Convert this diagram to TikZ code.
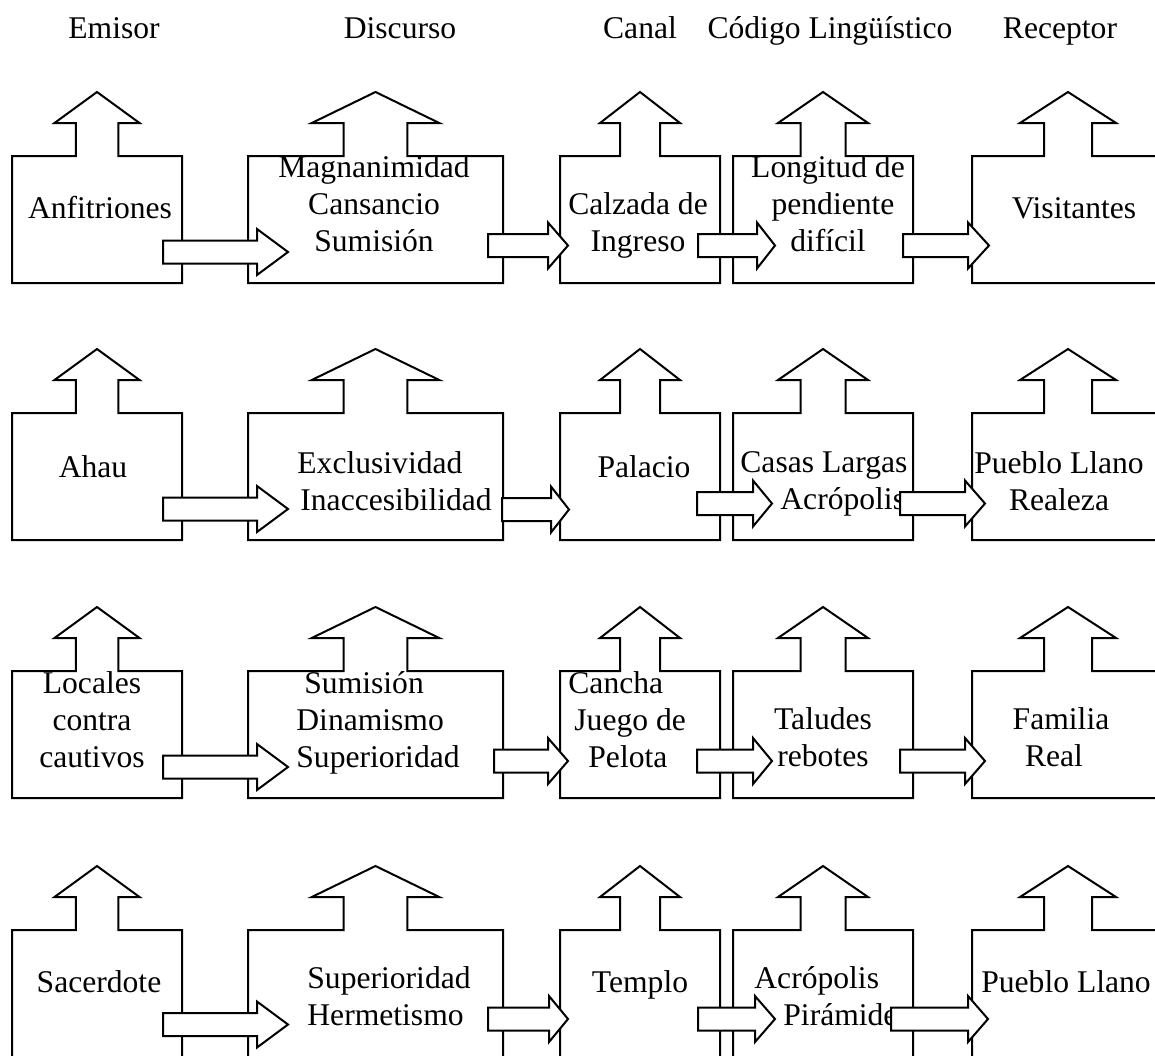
\documentclass[tikz,border=0pt]{standalone}
\usepackage{fontspec}
\setmainfont{Liberation Serif}
\newcommand{\letra}{\fontsize{15.8}{18.5}\selectfont}

\tikzset{
  casa/.style={draw=black, line width=1pt, fill=white},
  flecha/.style={draw=black, line width=1pt, fill=white},
  rotulo/.style={font=\letra, inner sep=0pt, anchor=north, align=center,
    execute at begin node=\strut},
  titulo/.style={font=\letra, inner sep=0pt, anchor=base}
}

\begin{document}
\begin{tikzpicture}[x=0.5pt, y=-0.5pt]
  \useasboundingbox (0,0) rectangle (1155,1055);
  \clip (0,0) rectangle (1155,1055);

  % заголовки столбцов
  \node[titulo] (h1) at (114,38) {Emisor};
  \node[titulo] (h2) at (400,38) {Discurso};
  \node[titulo] (h3) at (640,38) {Canal};
  \node[titulo] (h4) at (830,38) {Código Lingüístico};
  \node[titulo] (h5) at (1060,38) {Receptor};

  % блоки со стрелкой вверх
  \foreach \yt [count=\fila] in {156,413,671,930}{
    \foreach \xl/\xr [count=\col] in {12/182,248/503,560/720,733/913,972/1164}{
      \pgfmathsetmacro\xm{(\xl+\xr)/2}
      \pgfmathsetmacro\ca{(\xr-\xl)/4}
      \pgfmathsetmacro\cb{(\xr-\xl)/8}
      \draw[casa] (\xl,\yt+127) -- (\xl,\yt) -- (\xm-\cb,\yt) -- (\xm-\cb,\yt-33)
        -- (\xm-\ca,\yt-33) -- (\xm,\yt-64) -- (\xm+\ca,\yt-33) -- (\xm+\cb,\yt-33)
        -- (\xm+\cb,\yt) -- (\xr,\yt) -- (\xr,\yt+127) -- cycle;
      \coordinate (b\fila\col) at (\xm,\yt);
    }
  }

  % первая строка
  \node[rotulo] (t11) at (100,192) {Anfitriones};
  \node[rotulo] (t12) at (374,155) {Magnanimidad\\Cansancio\\Sumisión};
  \node[rotulo] (t13) at (638,192) {Calzada de\\Ingreso};
  \node[rotulo] (t14) at (828,155) {Longitud de\\\hspace*{5pt}pendiente\\difícil};
  \node[rotulo] (t15) at (1074,192) {Visitantes};

  % вторая строка
  \node[rotulo] (t21) at (93,451) {Ahau};
  \node[rotulo, anchor=north west, align=left] (t22) at (297,451)
    {Exclusividad\\\hspace*{1.5pt}Inaccesibilidad};
  \node[rotulo] (t23) at (644,451) {Palacio};
  \node[rotulo, anchor=north west, align=left] (t24) at (740,451)
    {Casas Largas\\\hspace*{20pt}Acrópolis};
  \node[rotulo] (t25) at (1059,451) {Pueblo Llano\\Realeza};

  % третья строка
  \node[rotulo] (t31) at (92,671) {Locales\\contra\hspace*{5pt}\\cautivos};
  \node[rotulo, anchor=north west, align=left] (t32) at (296,671)
    {\hspace*{4pt}Sumisión\\Dinamismo\\Superioridad};
  \node[rotulo, anchor=north west, align=left] (t33) at (568,671)
    {Cancha\\\hspace*{3pt}Juego de\\\hspace*{10pt}Pelota};
  \node[rotulo] (t34) at (823,707) {Taludes\\rebotes};
  \node[rotulo] (t35) at (1061,707) {Familia\\Real\hspace*{7pt}};

  % четвёртая строка
  \node[rotulo] (t41) at (99,966) {Sacerdote};
  \node[rotulo, anchor=north west, align=left] (t42) at (307,966)
    {Superioridad\\Hermetismo};
  \node[rotulo] (t43) at (640,966) {Templo};
  \node[rotulo, anchor=north west, align=left] (t44) at (754,966)
    {Acrópolis\\\hspace*{14.5pt}Pirámide};
  \node[rotulo] (t45) at (1066,966) {Pueblo Llano};

  % стрелки вправо
  \foreach \xa/\xb/\xc/\yc in {163/257/288/252, 488/548/568/245.5, 698/757/775/245.5, 903/968/989/245.5,
      163/257/288/509, 502/551/569/509.5, 697/753/772/503.5, 900/965/985/503.5,
      163/257/288/767, 494/548/568/761, 697/753/772/761, 900/965/985/761,
      163/257/288/1024.5, 488/549/568/1019, 698/755/775/1019, 891/968/988/1019}{
    \draw[flecha] (\xa,\yc-11.5) -- (\xb,\yc-11.5) -- (\xb,\yc-23) -- (\xc,\yc)
      -- (\xb,\yc+23) -- (\xb,\yc+11.5) -- (\xa,\yc+11.5) -- cycle;
  }
\end{tikzpicture}
\end{document}
